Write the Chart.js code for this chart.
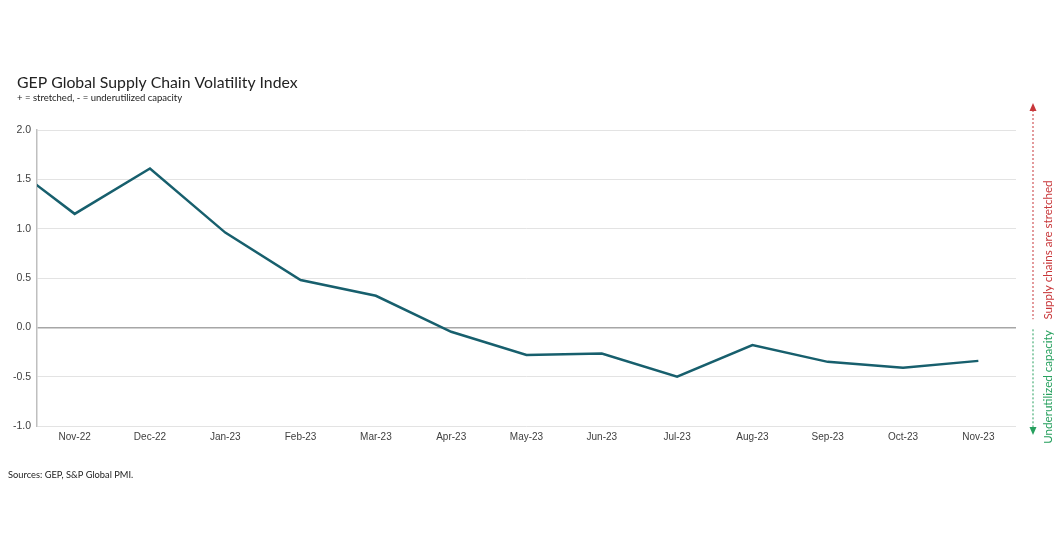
<!DOCTYPE html>
<html>
<head>
<meta charset="utf-8">
<script src="https://cdn.jsdelivr.net/npm/chart.js@4/dist/chart.umd.min.js"></script>
<style>
  html, body { margin: 0; padding: 0; background: #fff; }
  #wrap { width: 1062px; height: 557px; position: relative; }
</style>
</head>
<body>
<div id="wrap"><canvas id="c"></canvas></div>
<script>
// months shown on the axis; Oct-22 sits half off the left edge
var months = ['Oct-22','Nov-22','Dec-22','Jan-23','Feb-23','Mar-23','Apr-23','May-23','Jun-23','Jul-23','Aug-23','Sep-23','Oct-23','Nov-23']
var volatility = [1.73, 1.15, 1.61, 0.96, 0.48, 0.32, -0.045, -0.28, -0.265, -0.50, -0.18, -0.35, -0.41, -0.34]
var yTicks = [-1.0, -0.5, 0.0, 0.5, 1.0, 1.5, 2.0]

var titleText = 'GEP Global Supply Chain Volatility Index'
var subText = '+ = stretched, - = underutilized capacity'
var sourceText = 'Sources: GEP, S&P Global PMI.'
var upText = 'Supply chains are stretched'
var downText = 'Underutilized capacity'

var points = volatility.map((v, i) => ({ x: i - 1, y: v }))

var textPlugin = {
  id: 'texts',
  afterDraw(chart) {
    var ctx = chart.ctx
    ctx.save()
    ctx.fillStyle = '#222'
    ctx.textBaseline = 'alphabetic'
    ctx.font = '15.8px Lato'
    ctx.fillText(titleText, 17, 88)
    ctx.font = '9.5px Lato'
    ctx.fillText(subText, 17, 101)
    ctx.font = '9.3px Lato'
    ctx.fillText(sourceText, 8, 478)

    // right side arrows
    var ax = 1033
    var zero = chart.scales.y.getPixelForValue(0)
    ctx.setLineDash([2, 2])
    ctx.lineWidth = 1
    ctx.strokeStyle = '#c8373a'
    ctx.beginPath(); ctx.moveTo(ax, 110); ctx.lineTo(ax, zero - 8); ctx.stroke()
    ctx.strokeStyle = '#26a05e'
    ctx.beginPath(); ctx.moveTo(ax, zero + 2); ctx.lineTo(ax, 428); ctx.stroke()
    ctx.setLineDash([])
    ctx.fillStyle = '#c8373a'
    ctx.beginPath(); ctx.moveTo(ax, 103); ctx.lineTo(ax - 3.5, 111); ctx.lineTo(ax + 3.5, 111); ctx.fill()
    ctx.fillStyle = '#26a05e'
    ctx.beginPath(); ctx.moveTo(ax, 435); ctx.lineTo(ax - 3.5, 427); ctx.lineTo(ax + 3.5, 427); ctx.fill()

    ctx.font = '11.6px Lato'
    ctx.textAlign = 'center'
    ctx.textBaseline = 'middle'
    ctx.save()
    ctx.translate(1048, 250); ctx.rotate(-Math.PI / 2)
    ctx.fillStyle = '#c8373a'
    ctx.fillText(upText, 0, 0)
    ctx.restore()
    ctx.save()
    ctx.translate(1048, 387); ctx.rotate(-Math.PI / 2)
    ctx.fillStyle = '#26a05e'
    ctx.fillText(downText, 0, 0)
    ctx.restore()
    ctx.restore()
  }
}

new Chart(document.getElementById('c'), {
  type: 'line',
  data: {
    datasets: [{
      data: points,
      borderColor: '#175f6d',
      borderWidth: 2.5,
      pointRadius: 0,
      tension: 0,
      clip: 0
    }]
  },
  options: {
    responsive: true,
    maintainAspectRatio: false,
    animation: false,
    layout: { padding: { left: 0, top: 130, right: 46, bottom: 106 } },
    plugins: { legend: { display: false }, tooltip: { enabled: false } },
    scales: {
      x: {
        type: 'linear',
        min: -0.5,
        max: 12.5,
        afterFit(s) { s.height = 25 },
        afterBuildTicks(s) { s.ticks = months.slice(1).map((m, i) => ({ value: i })) },
        grid: { display: false, drawTicks: false },
        border: { display: false },
        ticks: {
          autoSkip: false,
          maxRotation: 0,
          padding: 5,
          color: '#404040',
          font: { family: 'Liberation Sans', size: 10 },
          callback: v => months[v + 1]
        }
      },
      y: {
        min: -1,
        max: 2,
        afterFit(s) { s.width = 37 },
        afterBuildTicks(s) { s.ticks = yTicks.map(v => ({ value: v })) },
        border: { display: true, color: '#bfbfbf', width: 1.5 },
        grid: {
          drawTicks: false,
          color: c => c.tick && c.tick.value === 0 ? '#a6a6a6' : '#e3e3e3',
          lineWidth: c => c.tick && c.tick.value === 0 ? 1.5 : 1
        },
        ticks: {
          padding: 6,
          color: '#404040',
          font: { family: 'Liberation Sans', size: 10.5 },
          callback: v => v.toFixed(1)
        }
      }
    }
  },
  plugins: [textPlugin]
})
</script>
</body>
</html>
